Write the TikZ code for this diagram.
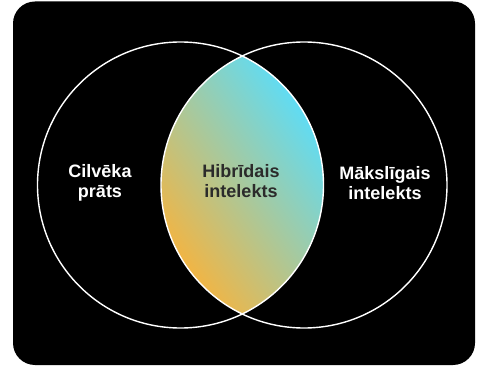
\documentclass[tikz,border=0pt]{standalone}
\usepackage{fontspec}
\setmainfont{Liberation Sans}
\definecolor{warm}{HTML}{F8B33C}
\definecolor{cool}{HTML}{58DEFD}
\definecolor{ink}{HTML}{2B2B2B}
\tikzset{
    ring/.style={draw=white,line width=1.4pt},
    caption/.style={align=center,font=\bfseries\fontsize{18}{20}\selectfont,text=white}
}
\begin{document}
\begin{tikzpicture}[x=1pt,y=-1pt]
    \useasboundingbox (0,0) rectangle (477,366);
    \fill[black,rounded corners=22pt] (13,1.5) rectangle (475,365);
    \coordinate (mind) at (180.5,185);
    \coordinate (ai) at (304,185);
    % overlap with gradient
    \begin{scope}
        \clip (mind) circle[radius=143];
        \clip (ai) circle[radius=143];
        \shade[bottom color=warm,top color=cool,shading angle=-55] (160,55) rectangle (325,315);
    \end{scope}
    \draw[ring] (mind) circle[radius=143];
    \draw[ring] (ai) circle[radius=143];
    \node[caption] (human) at (100,183) {Cilvēka\\prāts};
    \node[caption,text=ink] (hybrid) at (241,181) {Hibrīdais\\intelekts};
    \node[caption] (machine) at (385,183) {Mākslīgais\\intelekts};
\end{tikzpicture}
\end{document}
